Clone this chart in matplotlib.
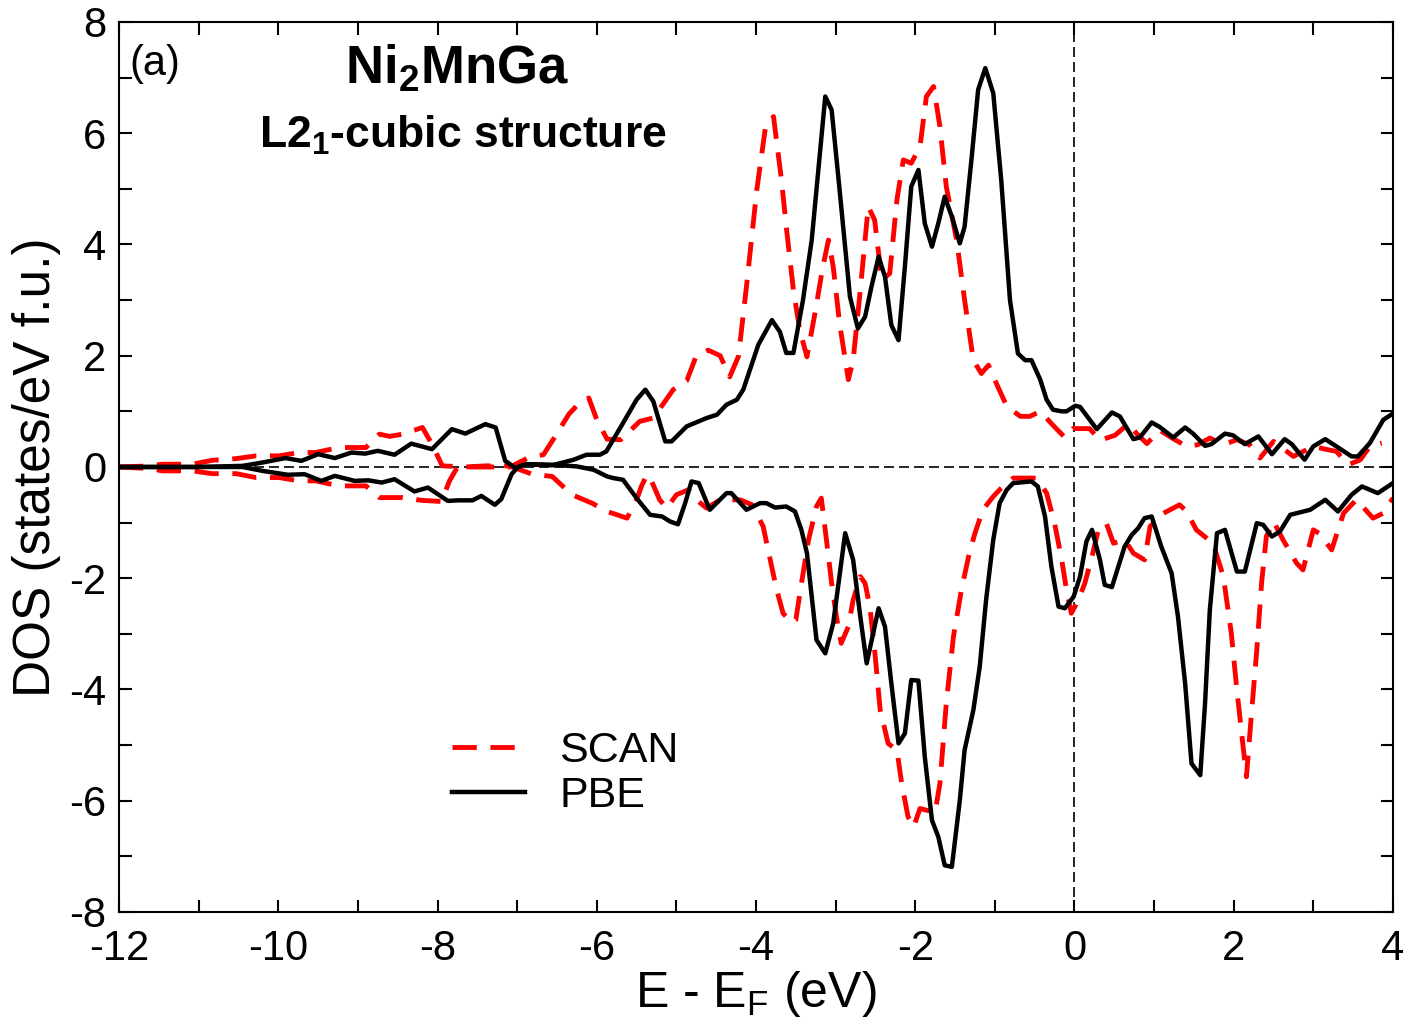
import matplotlib
matplotlib.use("Agg")
import matplotlib.pyplot as plt
from matplotlib.ticker import MultipleLocator

plt.rcParams['font.family'] = ['Liberation Sans', 'DejaVu Sans']
plt.rcParams['mathtext.fontset'] = 'custom'
plt.rcParams['mathtext.rm'] = 'Liberation Sans'
plt.rcParams['mathtext.bf'] = 'Liberation Sans:bold'
plt.rcParams['mathtext.it'] = 'Liberation Sans:italic'
plt.rcParams['axes.unicode_minus'] = False

# PBE, spin up (black, upper half)
pbe_up_e = [-12, -11, -10.45, -10.2, -9.91, -9.71, -9.50, -9.29, -9.08, -8.91, -8.75, -8.54,
            -8.33, -8.07, -7.82, -7.65, -7.40, -7.27, -7.15, -7.02, -6.89, -6.56, -6.29, -6.13,
            -5.96, -5.88, -5.67, -5.50, -5.39, -5.29, -5.14, -5.06, -4.87, -4.62, -4.49, -4.37,
            -4.24, -4.16, -3.97, -3.80, -3.70, -3.62, -3.53, -3.41, -3.30, -3.13, -3.05, -2.95,
            -2.82, -2.72, -2.63, -2.55, -2.46, -2.38, -2.30, -2.21, -2.13, -2.05, -1.96, -1.88,
            -1.79, -1.71, -1.63, -1.54, -1.44, -1.38, -1.29, -1.21, -1.12, -1.02, -0.92, -0.81,
            -0.71, -0.62, -0.54, -0.43, -0.35, -0.27, -0.16, -0.10, 0.01, 0.07, 0.28, 0.47,
            0.57, 0.74, 0.82, 0.97, 1.07, 1.24, 1.39, 1.49, 1.64, 1.72, 1.89, 1.99, 2.14, 2.31,
            2.48, 2.64, 2.73, 2.89, 3.00, 3.15, 3.29, 3.48, 3.56, 3.71, 3.88, 4.00]
pbe_up = [0, 0, 0.02, 0.08, 0.16, 0.11, 0.23, 0.16, 0.26, 0.24, 0.29, 0.22,
          0.42, 0.32, 0.68, 0.60, 0.77, 0.71, 0.11, -0.02, 0.05, 0.03, 0.13, 0.22,
          0.22, 0.28, 0.79, 1.21, 1.39, 1.18, 0.46, 0.46, 0.73, 0.88, 0.94, 1.12,
          1.21, 1.39, 2.20, 2.64, 2.43, 2.05, 2.05, 3.00, 4.08, 6.66, 6.42, 4.98,
          3.06, 2.49, 2.70, 3.24, 3.78, 3.42, 2.55, 2.28, 3.60, 5.04, 5.34, 4.38,
          3.96, 4.38, 4.86, 4.50, 4.02, 4.32, 5.58, 6.78, 7.17, 6.72, 5.16, 3.00,
          2.04, 1.92, 1.92, 1.57, 1.21, 1.03, 1.00, 1.00, 1.10, 1.08, 0.68, 0.98,
          0.91, 0.50, 0.53, 0.80, 0.72, 0.53, 0.71, 0.60, 0.38, 0.41, 0.60, 0.57, 0.41, 0.55,
          0.23, 0.50, 0.41, 0.13, 0.37, 0.50, 0.37, 0.19, 0.19, 0.43, 0.85, 0.96]

# PBE, spin down (black, lower half)
pbe_dn_e = [-12, -11, -10.45, -10.2, -9.88, -9.67, -9.46, -9.29, -9.04, -8.87, -8.70, -8.54,
            -8.29, -8.12, -7.87, -7.74, -7.56, -7.45, -7.28, -7.20, -7.07, -6.99, -6.88, -6.55,
            -6.25, -6.04, -5.87, -5.79, -5.67, -5.50, -5.33, -5.18, -5.08, -4.98, -4.89, -4.81,
            -4.72, -4.58, -4.37, -4.31, -4.12, -3.95, -3.87, -3.76, -3.62, -3.51, -3.43, -3.36,
            -3.24, -3.13, -3.03, -2.88, -2.78, -2.69, -2.61, -2.46, -2.38, -2.30, -2.21, -2.13,
            -2.05, -1.96, -1.88, -1.79, -1.71, -1.63, -1.54, -1.44, -1.38, -1.27, -1.19, -1.11,
            -1.02, -0.94, -0.85, -0.77, -0.54, -0.46, -0.37, -0.29, -0.20, -0.12, -0.01, 0.07,
            0.15, 0.22, 0.32, 0.38, 0.47, 0.63, 0.72, 0.80, 0.88, 0.97, 1.09, 1.22, 1.30, 1.39,
            1.47, 1.58, 1.64, 1.70, 1.79, 1.89, 2.04, 2.14, 2.29, 2.37, 2.48, 2.58, 2.71, 2.96,
            3.15, 3.31, 3.48, 3.61, 3.81, 4.00]
pbe_dn = [0, 0, 0, -0.07, -0.14, -0.13, -0.25, -0.16, -0.25, -0.24, -0.28, -0.22,
          -0.44, -0.37, -0.61, -0.60, -0.60, -0.52, -0.68, -0.58, -0.13, 0.0, 0.05, 0.04,
          0.01, -0.05, -0.17, -0.20, -0.23, -0.56, -0.86, -0.89, -0.98, -1.03, -0.65, -0.26,
          -0.29, -0.77, -0.47, -0.47, -0.77, -0.65, -0.65, -0.73, -0.71, -0.80, -1.13, -1.55,
          -3.11, -3.35, -2.81, -1.19, -1.67, -2.69, -3.53, -2.54, -2.87, -3.89, -4.97, -4.79,
          -3.83, -3.84, -5.21, -6.35, -6.65, -7.16, -7.19, -5.99, -5.09, -4.37, -3.59, -2.39,
          -1.31, -0.65, -0.41, -0.29, -0.26, -0.35, -0.89, -1.79, -2.51, -2.54, -2.33, -1.97,
          -1.34, -1.13, -1.67, -2.12, -2.16, -1.43, -1.22, -1.10, -0.92, -0.89, -1.43, -1.91, -2.69, -3.89,
          -5.33, -5.54, -4.25, -2.57, -1.19, -1.13, -1.88, -1.88, -1.01, -1.04, -1.25, -1.16, -0.86, -0.77,
          -0.59, -0.80, -0.50, -0.35, -0.47, -0.29]

# SCAN, spin up (red dashed, upper half)
scan_up_e = [-12, -11.6, -11.46, -11.08, -10.83, -10.53, -10.28, -9.99, -9.74, -9.53, -9.24, -8.90,
             -8.73, -8.6, -8.44, -8.19, -8.07, -7.94, -7.65, -7.40, -7.06, -6.84, -6.67, -6.50,
             -6.35, -6.20, -6.10, -6.00, -5.87, -5.70, -5.46, -5.29, -5.04, -4.87, -4.75, -4.60,
             -4.45, -4.33, -4.22, -4.12, -3.99, -3.88, -3.78, -3.68, -3.62, -3.53, -3.45, -3.36,
             -3.26, -3.16, -3.09, -3.03, -2.95, -2.84, -2.78, -2.69, -2.59, -2.51, -2.42, -2.32,
             -2.23, -2.15, -2.05, -1.94, -1.86, -1.77, -1.69, -1.61, -1.48, -1.38, -1.27, -1.17,
             -1.08, -0.98, -0.85, -0.68, -0.56, -0.43, -0.27, -0.12, -0.02, 0.19, 0.32, 0.51,
             0.68, 0.78, 0.91, 1.07, 1.25, 1.41, 1.55, 1.70, 1.87, 2.04, 2.20, 2.33, 2.50, 2.75,
             3.00, 3.15, 3.29, 3.44, 3.59, 3.71, 3.86]
scan_up = [0, 0.02, 0.05, 0.05, 0.12, 0.15, 0.20, 0.20, 0.26, 0.26, 0.35, 0.35,
           0.59, 0.55, 0.59, 0.71, 0.41, 0.02, 0.0, 0.02, 0.02, 0.18, 0.22, 0.60,
           0.95, 1.18, 1.24, 0.85, 0.50, 0.49, 0.82, 0.88, 1.39, 1.55, 2.00, 2.10,
           2.00, 1.62, 1.99, 3.24, 4.98, 6.12, 6.30, 5.16, 4.32, 3.18, 2.46, 1.98,
           2.76, 3.60, 4.08, 3.60, 2.58, 1.57, 1.92, 3.18, 4.68, 4.44, 3.36, 3.48,
           4.80, 5.52, 5.46, 5.76, 6.66, 6.84, 6.12, 5.04, 4.08, 3.00, 1.92, 1.68,
           1.83, 1.50, 1.09, 0.91, 0.91, 1.00, 0.75, 0.53, 0.69, 0.69, 0.48, 0.57,
           0.78, 0.60, 0.42, 0.66, 0.50, 0.37, 0.40, 0.52, 0.40, 0.49, 0.40, 0.16, 0.46, 0.19,
           0.37, 0.32, 0.28, 0.04, 0.13, 0.37, 0.43]

# SCAN, spin down (red dashed, lower half)
scan_dn_e = [-12, -11.6, -11.46, -11.08, -10.83, -10.53, -10.28, -9.99, -9.74, -9.53, -9.24, -8.90,
             -8.73, -8.44, -8.20, -7.95, -7.85, -7.75, -7.40, -7.06, -6.81, -6.56, -6.31, -6.06,
             -5.87, -5.62, -5.50, -5.44, -5.37, -5.31, -5.21, -5.12, -5.00, -4.85, -4.75, -4.62,
             -4.45, -4.20, -4.05, -3.91, -3.83, -3.74, -3.66, -3.55, -3.50, -3.43, -3.34, -3.24,
             -3.18, -3.11, -3.05, -2.99, -2.93, -2.84, -2.78, -2.69, -2.63, -2.57, -2.51, -2.44,
             -2.34, -2.23, -2.17, -2.09, -2.02, -1.94, -1.86, -1.75, -1.69, -1.61, -1.52, -1.42,
             -1.33, -1.25, -1.15, -1.02, -0.92, -0.77, -0.48, -0.35, -0.25, -0.16, -0.10, -0.04,
             0.05, 0.13, 0.22, 0.30, 0.40, 0.49, 0.63, 0.74, 0.88, 0.95, 1.12, 1.32, 1.41, 1.53,
             1.74, 1.87, 1.97, 2.04, 2.10, 2.16, 2.22, 2.29, 2.35, 2.41, 2.50, 2.62, 2.79, 2.87,
             3.00, 3.08, 3.23, 3.38, 3.54, 3.75, 3.88, 4.00]
scan_dn = [0, -0.03, -0.07, -0.07, -0.12, -0.12, -0.19, -0.19, -0.25, -0.25, -0.34, -0.34,
           -0.55, -0.55, -0.60, -0.62, -0.25, 0.0, 0.0, 0.0, -0.13, -0.17, -0.50, -0.65,
           -0.80, -0.92, -0.59, -0.35, -0.14, -0.26, -0.59, -0.74, -0.50, -0.41, -0.59, -0.74,
           -0.59, -0.59, -0.68, -1.07, -1.61, -2.21, -2.63, -2.80, -2.75, -2.10, -1.31, -0.71,
           -0.56, -1.37, -2.09, -2.69, -3.17, -2.87, -2.39, -1.97, -2.09, -2.51, -3.29, -4.37,
           -4.97, -5.09, -5.69, -6.29, -6.47, -6.14, -6.17, -6.20, -5.69, -4.25, -3.05, -2.21,
           -1.61, -1.19, -0.77, -0.53, -0.38, -0.20, -0.20, -0.47, -1.01, -1.67, -2.21, -2.63,
           -2.39, -2.09, -1.61, -1.13, -1.01, -1.37, -1.31, -1.55, -1.67, -1.07, -0.83, -0.68, -0.80, -1.13,
           -1.37, -1.97, -2.99, -4.01, -4.79, -5.57, -4.49, -3.29, -2.09, -1.25, -0.98, -1.31, -1.73, -1.85,
           -1.13, -1.20, -1.49, -0.83, -0.59, -0.92, -0.83, -0.56]

fig = plt.figure(figsize=(14.09, 10.36), dpi=100)
ax = fig.add_axes([0.0845, 0.1197, 0.9041, 0.8591])

dash = (0, (5, 2.8))
ax.plot(scan_up_e, scan_up, color='red', lw=3.5, ls=dash, label='SCAN')
ax.plot(scan_dn_e, scan_dn, color='red', lw=3.5, ls=dash)
ax.plot(pbe_up_e, pbe_up, color='black', lw=3.2, label='PBE')
ax.plot(pbe_dn_e, pbe_dn, color='black', lw=3.2)

# zero lines
ax.axhline(0, color='black', lw=1.2, ls=(0, (6, 3)), zorder=0)
ax.axvline(0, color='black', lw=1.2, ls=(0, (6, 3)), zorder=0)

ax.set_xlim(-12, 4)
ax.set_ylim(-8, 8)
ax.xaxis.set_major_locator(MultipleLocator(2))
ax.xaxis.set_minor_locator(MultipleLocator(1))
ax.yaxis.set_major_locator(MultipleLocator(2))
ax.yaxis.set_minor_locator(MultipleLocator(1))
ax.tick_params(which='both', direction='in', top=True, right=True, length=9, width=1.5,
               labelsize=30)
ax.tick_params(axis='x', pad=12)
ax.tick_params(axis='y', pad=9)
for s in ax.spines.values():
    s.set_linewidth(1.5)

ax.set_xlabel(r'E - E$_\mathrm{F}$ (eV)', fontsize=36, labelpad=0)
ax.set_ylabel('DOS (states/eV f.u.)', fontsize=37, labelpad=6)

ax.text(0.008, 0.975, '(a)', transform=ax.transAxes, fontsize=30, va='top', ha='left')
ax.text(0.265, 0.947, r'Ni$_\mathbf{2}$MnGa', transform=ax.transAxes, fontsize=38,
        fontweight='bold', ha='center', va='center')
ax.text(0.27, 0.872, r'L2$_\mathbf{1}$-cubic structure', transform=ax.transAxes, fontsize=32,
        fontweight='bold', ha='center', va='center')

ax.legend(loc='upper left', bbox_to_anchor=(0.261, 0.203), frameon=False, fontsize=31,
          handlelength=1.7, handletextpad=0.8, labelspacing=0.1, borderpad=0, borderaxespad=0)

fig.savefig('out.png', dpi=100)
